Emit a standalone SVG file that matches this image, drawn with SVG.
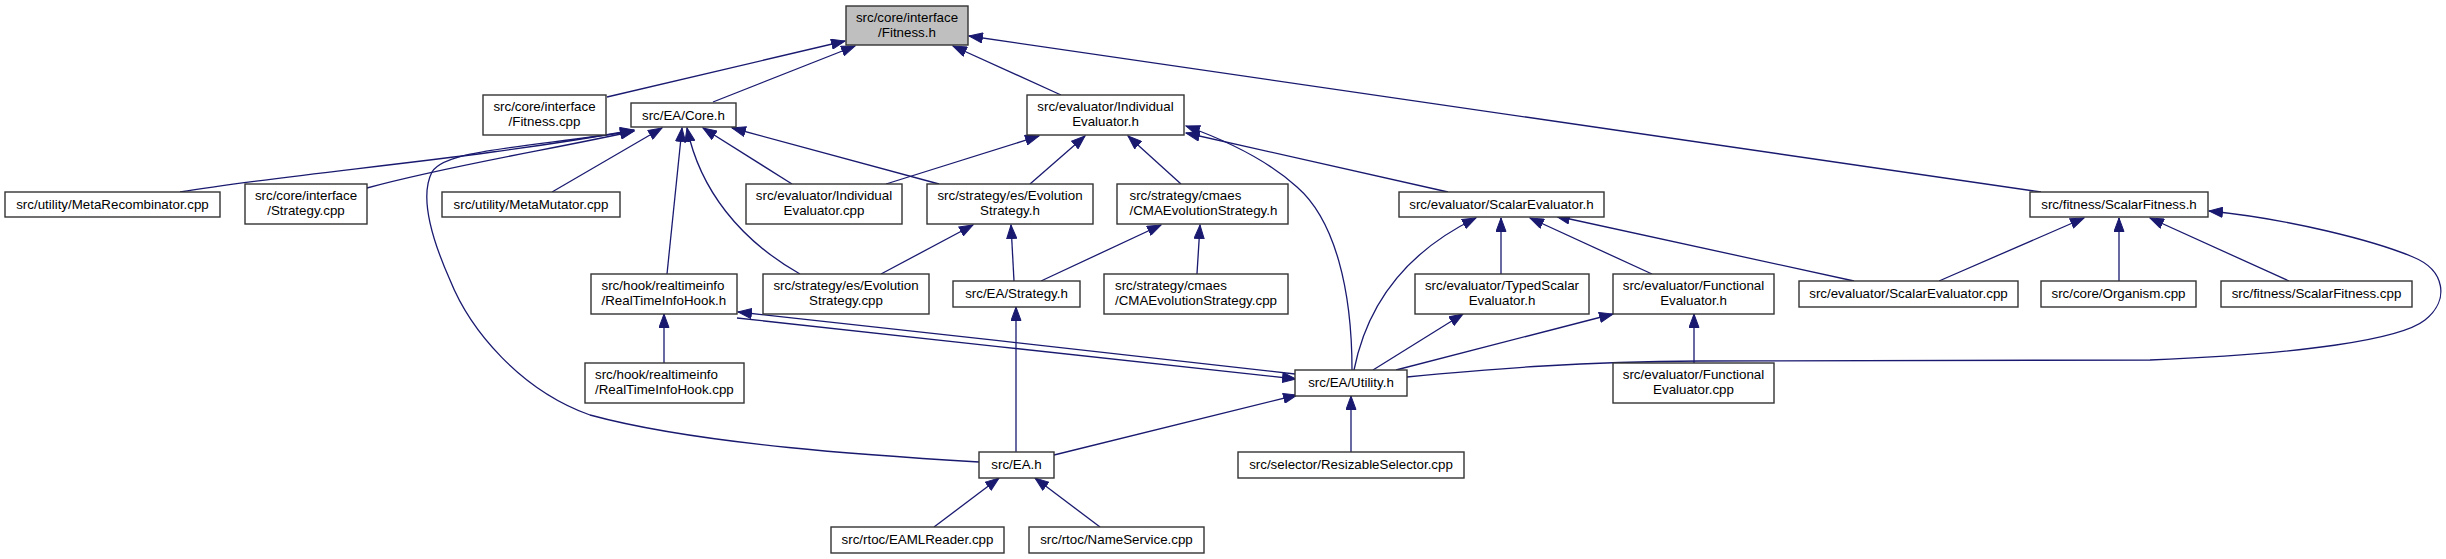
<svg xmlns="http://www.w3.org/2000/svg" width="2446" height="559" viewBox="0 0 2446 559">
<style>
.n rect{fill:#ffffff;stroke:#333333;stroke-width:1.4}
.n.g rect{fill:#bfbfbf}
.n text{font-family:"Liberation Sans",Arial,sans-serif;font-size:13.33px;fill:#000;text-anchor:middle}
.n text.l{text-anchor:start}
.e path{fill:none;stroke:#191970;stroke-width:1.3;marker-end:url(#ah)}
</style>
<defs>
<marker id="ah" markerUnits="userSpaceOnUse" markerWidth="15" markerHeight="11" refX="14" refY="5.5" orient="auto">
<path d="M0.5,0.5 L14,5.5 L0.5,10.5 z" fill="#191970" stroke="#191970" stroke-width="1"/>
</marker>
</defs>
<rect x="0" y="0" width="2446" height="559" fill="#ffffff"/>
<g id="edges" class="e">
<path d="M607,97 L845,41"/>
<path d="M713,102 L855,46"/>
<path d="M1061,95 L953,46"/>
<path d="M2041,192 L969,36"/>
<path d="M180,192 C 300,172 470,160 634,130"/>
<path d="M367,188 C 450,165 560,148 634,131"/>
<path d="M552,192 L662,128"/>
<path d="M792,184 L703,128"/>
<path d="M939,184 L732,128"/>
<path d="M667,274 L682,128"/>
<path d="M800,274 C 740,240 700,190 687,128"/>
<path d="M979,462 C 880,456 700,445 590,415 C 520,390 470,330 450,280 C 430,235 420,195 432,172 C 445,150 520,148 634,131"/>
<path d="M886,184 L1039,136"/>
<path d="M1030,184 L1085,136"/>
<path d="M1181,184 L1128,136"/>
<path d="M1352,370 C 1352,290 1335,220 1297,187 C 1265,158 1225,140 1186,126"/>
<path d="M1448,192 L1186,133"/>
<path d="M881,274 L973,225"/>
<path d="M1014,281 L1011,225"/>
<path d="M1041,281 L1161,225"/>
<path d="M1197,274 L1200,225"/>
<path d="M1354,370 C 1368,300 1410,250 1476,218"/>
<path d="M1501,274 L1501,218"/>
<path d="M1652,274 L1530,218"/>
<path d="M1854,281 L1556,216"/>
<path d="M1939,281 L2084,218"/>
<path d="M2119,281 L2119,218"/>
<path d="M2289,281 L2150,218"/>
<path d="M1407,377 C 1500,368 1580,362 1700,361 L 2150,360 C 2300,354 2400,340 2425,320 C 2450,300 2445,270 2413,257 C 2375,241 2290,219 2209,211"/>
<path d="M664,363 L664,314"/>
<path d="M1295,374 C 1150,357 900,330 738,312"/>
<path d="M737,318 C 900,336 1150,363 1296,379"/>
<path d="M1054,455 L1297,395"/>
<path d="M1016,452 L1016,307"/>
<path d="M1351,452 L1351,396"/>
<path d="M934,527 L999,478"/>
<path d="M1100,527 L1035,478"/>
<path d="M1373,370 L1463,314"/>
<path d="M1396,370 L1613,314"/>
<path d="M1694,363 L1694,314"/>
</g>
<g id="n_fitness_h" class="n g"><rect x="846" y="6" width="122" height="39"/><text x="907" y="21.7">src/core/interface</text><text x="907" y="36.7">/Fitness.h</text></g>
<g id="n_fitness_cpp" class="n"><rect x="483" y="95" width="123" height="40"/><text x="544.5" y="110.7">src/core/interface</text><text x="544.5" y="125.7">/Fitness.cpp</text></g>
<g id="n_core_h" class="n"><rect x="631" y="103" width="105" height="24"/><text x="683.5" y="119.5">src/EA/Core.h</text></g>
<g id="n_indeval_h" class="n"><rect x="1027" y="95" width="157" height="40"/><text x="1105.5" y="110.7">src/evaluator/Individual</text><text x="1105.5" y="125.7">Evaluator.h</text></g>
<g id="n_scalarfitness_h" class="n"><rect x="2030" y="192" width="178" height="25"/><text x="2119" y="208.5">src/fitness/ScalarFitness.h</text></g>
<g id="n_metarecomb" class="n"><rect x="5" y="192" width="215" height="25"/><text x="112.5" y="208.5">src/utility/MetaRecombinator.cpp</text></g>
<g id="n_strategy_cpp" class="n"><rect x="245" y="184" width="122" height="40"/><text x="306" y="199.7">src/core/interface</text><text x="306" y="214.7">/Strategy.cpp</text></g>
<g id="n_metamutator" class="n"><rect x="442" y="192" width="178" height="25"/><text x="531" y="208.5">src/utility/MetaMutator.cpp</text></g>
<g id="n_indeval_cpp" class="n"><rect x="746" y="184" width="156" height="40"/><text x="824" y="199.7">src/evaluator/Individual</text><text x="824" y="214.7">Evaluator.cpp</text></g>
<g id="n_evostrat_h" class="n"><rect x="927" y="184" width="166" height="40"/><text x="1010" y="199.7">src/strategy/es/Evolution</text><text x="1010" y="214.7">Strategy.h</text></g>
<g id="n_cmaes_h" class="n"><rect x="1117" y="184" width="171" height="40"/><text class="l" x="1129.5" y="199.7">src/strategy/cmaes</text><text class="l" x="1129.5" y="214.7">/CMAEvolutionStrategy.h</text></g>
<g id="n_scalareval_h" class="n"><rect x="1399" y="192" width="205" height="25"/><text x="1501.5" y="208.5">src/evaluator/ScalarEvaluator.h</text></g>
<g id="n_rtih_h" class="n"><rect x="591" y="274" width="146" height="40"/><text class="l" x="601.5" y="289.7">src/hook/realtimeinfo</text><text class="l" x="601.5" y="304.7">/RealTimeInfoHook.h</text></g>
<g id="n_evostrat_cpp" class="n"><rect x="763" y="274" width="166" height="40"/><text x="846" y="289.7">src/strategy/es/Evolution</text><text x="846" y="304.7">Strategy.cpp</text></g>
<g id="n_ea_strategy_h" class="n"><rect x="953" y="281" width="127" height="26"/><text x="1016.5" y="297.5">src/EA/Strategy.h</text></g>
<g id="n_cmaes_cpp" class="n"><rect x="1104" y="274" width="184" height="40"/><text class="l" x="1115" y="289.7">src/strategy/cmaes</text><text class="l" x="1115" y="304.7">/CMAEvolutionStrategy.cpp</text></g>
<g id="n_typedscalar_h" class="n"><rect x="1415" y="274" width="174" height="40"/><text x="1502" y="289.7">src/evaluator/TypedScalar</text><text x="1502" y="304.7">Evaluator.h</text></g>
<g id="n_functional_h" class="n"><rect x="1613" y="274" width="161" height="40"/><text x="1693.5" y="289.7">src/evaluator/Functional</text><text x="1693.5" y="304.7">Evaluator.h</text></g>
<g id="n_scalareval_cpp" class="n"><rect x="1799" y="281" width="219" height="26"/><text x="1908.5" y="297.5">src/evaluator/ScalarEvaluator.cpp</text></g>
<g id="n_organism_cpp" class="n"><rect x="2041" y="281" width="155" height="26"/><text x="2118.5" y="297.5">src/core/Organism.cpp</text></g>
<g id="n_scalarfitness_cpp" class="n"><rect x="2221" y="281" width="191" height="26"/><text x="2316.5" y="297.5">src/fitness/ScalarFitness.cpp</text></g>
<g id="n_rtih_cpp" class="n"><rect x="585" y="363" width="159" height="40"/><text class="l" x="595" y="378.7">src/hook/realtimeinfo</text><text class="l" x="595" y="393.7">/RealTimeInfoHook.cpp</text></g>
<g id="n_utility_h" class="n"><rect x="1295" y="370" width="112" height="26"/><text x="1351" y="386.5">src/EA/Utility.h</text></g>
<g id="n_functional_cpp" class="n"><rect x="1613" y="363" width="161" height="40"/><text x="1693.5" y="378.7">src/evaluator/Functional</text><text x="1693.5" y="393.7">Evaluator.cpp</text></g>
<g id="n_ea_h" class="n"><rect x="979" y="452" width="75" height="26"/><text x="1016.5" y="468.5">src/EA.h</text></g>
<g id="n_resizable_cpp" class="n"><rect x="1238" y="452" width="226" height="26"/><text x="1351" y="468.5">src/selector/ResizableSelector.cpp</text></g>
<g id="n_eamlreader_cpp" class="n"><rect x="831" y="527" width="173" height="26"/><text x="917.5" y="543.5">src/rtoc/EAMLReader.cpp</text></g>
<g id="n_nameservice_cpp" class="n"><rect x="1029" y="527" width="175" height="26"/><text x="1116.5" y="543.5">src/rtoc/NameService.cpp</text></g>
</svg>
